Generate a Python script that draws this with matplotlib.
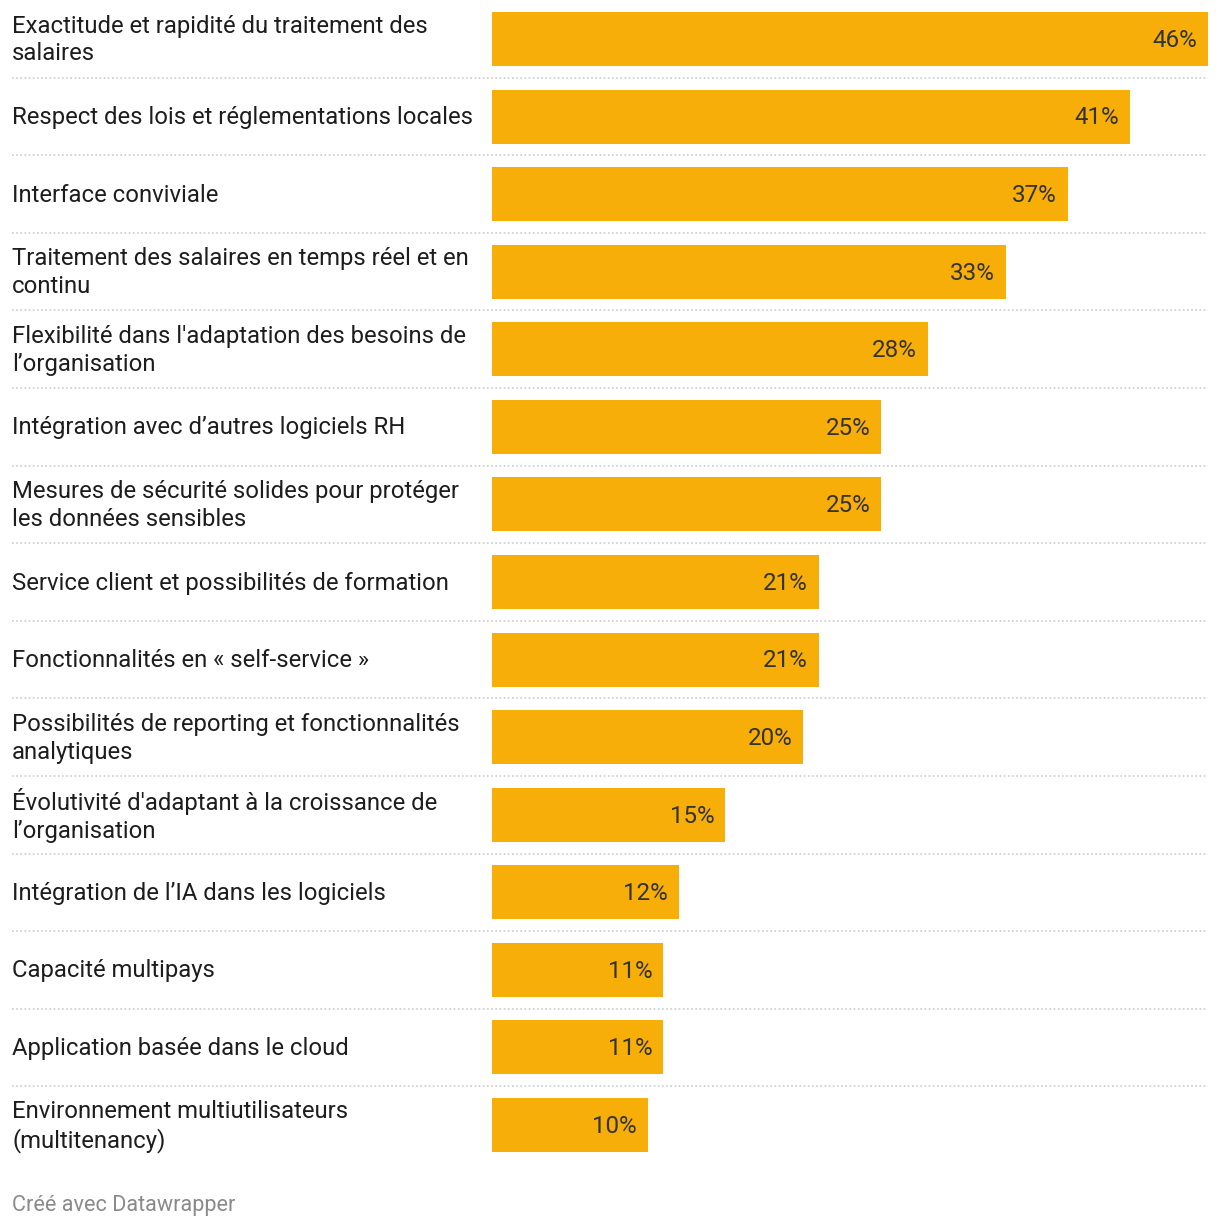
import matplotlib
matplotlib.use("Agg")
import matplotlib.pyplot as plt
import matplotlib.transforms as mtransforms

plt.rcParams['font.family'] = ['Roboto', 'DejaVu Sans']

labels = [
    "Exactitude et rapidité du traitement des\nsalaires",
    "Respect des lois et réglementations locales",
    "Interface conviviale",
    "Traitement des salaires en temps réel et en\ncontinu",
    "Flexibilité dans l'adaptation des besoins de\nl’organisation",
    "Intégration avec d’autres logiciels RH",
    "Mesures de sécurité solides pour protéger\nles données sensibles",
    "Service client et possibilités de formation",
    "Fonctionnalités en « self-service »",
    "Possibilités de reporting et fonctionnalités\nanalytiques",
    "Évolutivité d'adaptant à la croissance de\nl’organisation",
    "Intégration de l’IA dans les logiciels",
    "Capacité multipays",
    "Application basée dans le cloud",
    "Environnement multiutilisateurs\n(multitenancy)",
]
values = [46, 41, 37, 33, 28, 25, 25, 21, 21, 20, 15, 12, 11, 11, 10]

W, H = 1220, 1230
fig = plt.figure(figsize=(W / 100, H / 100), dpi=100)

# bar area in pixels
x0, x1 = 492, 1208
top, bottom = 0.2, 1163.8
ax = fig.add_axes([x0 / W, 1 - bottom / H, (x1 - x0) / W, (bottom - top) / H])
n = len(values)
ypos = list(range(n))
ax.barh(ypos, values, height=0.696, color="#f8ae08")
ax.set_xlim(0, 46)
ax.set_ylim(n - 0.5, -0.5)
ax.axis("off")

trans = mtransforms.blended_transform_factory(fig.transFigure, ax.transData)
shift = mtransforms.ScaledTranslation(0, -0.8 / 72, fig.dpi_scale_trans)
for i, (lab, v) in enumerate(zip(labels, values)):
    ax.text(12 / W, i, lab, transform=trans + shift, ha="left", va="center",
            fontsize=17.2, color="#1d1d1d", linespacing=1.26)
    ax.annotate(f"{v}%", xy=(v, i), xytext=(-7.9, -1.0), textcoords="offset points",
                ha="right", va="center", fontsize=17.4, color="#333333")

# dotted separators
xmin = (12 - x0) / (x1 - x0)
for i in range(n - 1):
    ax.axhline(i + 0.5, xmin=xmin, xmax=1, color="#cccccc", linestyle=(0, (1, 1.5)),
               linewidth=1.2, clip_on=False)

fig.text(12 / W, 1 - 1205 / H, "Créé avec Datawrapper", ha="left", va="center",
         fontsize=15.6, color="#8a8a8a")

fig.savefig("out.png", dpi=100)
